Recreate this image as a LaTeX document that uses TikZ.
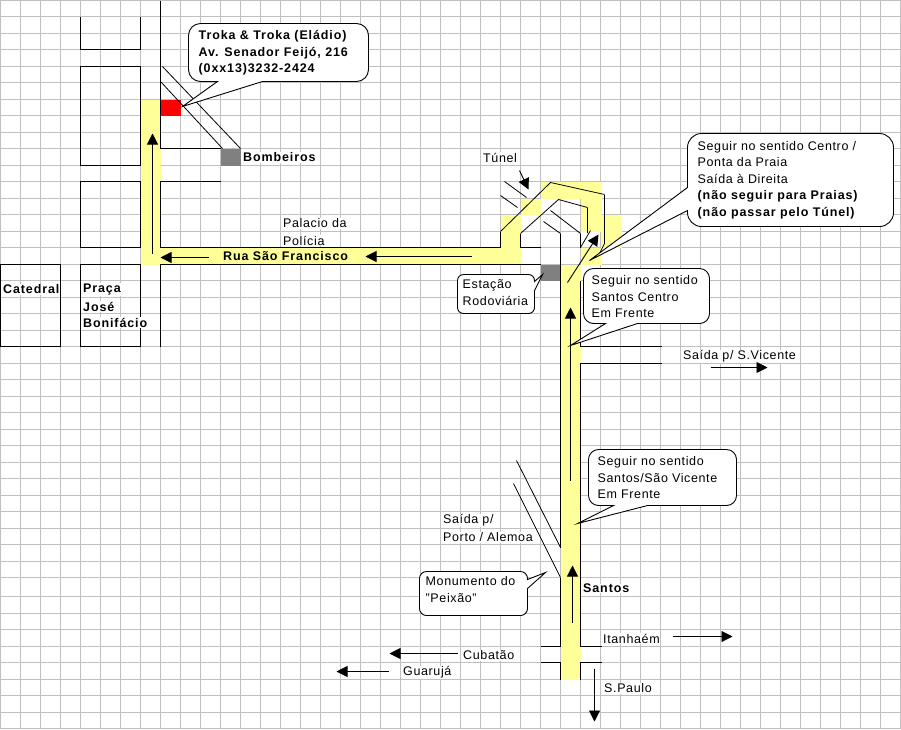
\documentclass[tikz,border=0pt]{standalone}
\usepackage{fontspec}
\setmainfont[LetterSpace=5,BoldFeatures={LetterSpace=7}]{Liberation Sans}
\usetikzlibrary{arrows.meta}
\definecolor{gridc}{HTML}{C0C0C0}
\definecolor{roadc}{HTML}{FFFF99}
\definecolor{boxgray}{HTML}{808080}
\tikzset{
  x=1pt,y=-1pt,
  gridline/.style={draw=gridc,line width=1pt},
  road/.style={draw=black,line width=1pt},
  thinl/.style={draw=black,line width=.8pt},
  cell/.style={fill=roadc},
  bubble/.style={draw=black,line width=.9pt,fill=white},
  arr/.style={draw=black,line width=.9pt,-{Triangle[length=11pt,width=11pt]}},
  lab/.style={anchor=west,inner sep=.5pt,xshift=-1pt,fill=white,font=\fontsize{12.5}{16.5}\selectfont,align=left},
  blab/.style={lab,font=\fontsize{12.5}{16.5}\bfseries\selectfont},
  bub/.style={anchor=north west,inner sep=0pt,xshift=-1pt,font=\fontsize{12.5}{16.5}\selectfont,align=left},
}
\begin{document}
\begin{tikzpicture}
\useasboundingbox (-0.5,-0.5) rectangle (900.5,728.5);
\fill[white] (-0.5,-0.5) rectangle (900.5,728.5);
% grid
\foreach \n in {0,...,45} \draw[gridline] ({20*\n},0) -- ({20*\n},728);
\foreach \n in {0,...,35} {\pgfmathsetmacro{\yy}{floor(16.5*\n)} \draw[gridline] (0,\yy) -- (900,\yy);}
\foreach \n in {36,...,44} {\pgfmathsetmacro{\yy}{596+floor(16.5*(\n-36)+0.5)} \draw[gridline] (0,\yy) -- (900,\yy);}
% yellow cells
\fill[cell] (140,99) rectangle (160,264);
\fill[cell] (140,247) rectangle (520,264);
\fill[cell] (500,214) rectangle (520,247);
\fill[cell] (520,198) rectangle (540,214);
\fill[cell] (540,181) rectangle (601,198);
\fill[cell] (580,198) rectangle (601,231);
\fill[cell] (600,214) rectangle (621,247);
\fill[cell] (580,247) rectangle (601,264);
\fill[cell] (560,264) rectangle (580,679);
% special cells
\fill[red] (160,99) rectangle (180,115);
\fill[boxgray] (220,148) rectangle (240,165);
\fill[boxgray] (540,264) rectangle (560,280);
% blocks
\draw[road] (80,16) -- (80,49) -- (140,49) -- (140,16);
\draw[road] (140,165) -- (80,165) -- (80,66) -- (140,66) -- (140,165);
\draw[road] (80,181) rectangle (140,247);
\draw[road] (80,264) rectangle (140,346);
\draw[road] (0,264) rectangle (60,346);
\draw[road] (160,0) -- (160,148) -- (220,148);
\draw[road] (220,181) -- (160,181) -- (160,247) -- (500,247) -- (500,231);
\draw[road] (160,346) -- (160,264) -- (540,264);
\draw[thinl] (162,66) -- (240,148);
\draw[thinl] (160.5,81.5) -- (222,148);
% tunnel area
\draw[thinl] (500,231) -- (550,182) -- (604,194);
\draw[road] (604,194) -- (604,243);
\draw[thinl] (604,243) -- (599,253);
\draw[road] (540,247) -- (520,247) -- (520,233);
\draw[thinl] (520,233) -- (558,199) -- (587,207);
\draw[road] (587,207) -- (587,232);
\draw[thinl] (504,181) -- (526,197);
\draw[thinl] (500,195) -- (517,207);
\draw[thinl] (550,210) -- (580,233);
\draw[thinl] (543,221) -- (560,233);
\draw[road] (580,233) -- (580,247);
\draw[thinl] (580,247) -- (590,230);
% main road
\draw[road] (560,233) -- (560,547);
\draw[road] (560,577) -- (560,646) -- (540,646);
\draw[road] (540,662) -- (560,662) -- (560,679);
\draw[road] (580,280) -- (580,346) -- (661,346);
\draw[road] (661,363) -- (580,363) -- (580,646) -- (601,646);
\draw[road] (601,662) -- (580,662) -- (580,679);
\draw[thinl] (516,460) -- (560,547);
\draw[thinl] (513,483) -- (560,577);
% callouts
\draw[bubble] (280,23) [rounded corners=12pt] -- (188,23) -- (188,81) [sharp corners] -- (217,81) -- (182,106) -- (262,81) [rounded corners=12pt] -- (368,81) -- (368,23) -- cycle;
\draw[bubble] (790,133) [rounded corners=14pt] -- (687,133) [sharp corners] -- (687,187) -- (589,260) -- (687,210) [rounded corners=14pt] -- (687,226) -- (893,226) -- (893,133) -- cycle;
\draw[bubble] (640,268) [rounded corners=10pt] -- (583,268) -- (583,323) [sharp corners] -- (605,323) -- (570,345) -- (637,323) [rounded corners=10pt] -- (709,323) -- (709,268) -- cycle;
\draw[bubble] (660,449) [rounded corners=10pt] -- (588,449) -- (588,505) [sharp corners] -- (613,505) -- (577,523) -- (647,505) [rounded corners=10pt] -- (736,505) -- (736,449) -- cycle;
\draw[bubble] (473,571) [rounded corners=7pt] -- (527,571) [sharp corners] -- (527,579) -- (545,572) -- (527,588) [rounded corners=7pt] -- (527,615) -- (419,615) -- (419,571) -- cycle;
\draw[bubble] (495,274) [rounded corners=6pt] -- (534,274) [sharp corners] -- (534,281) -- (542,274) -- (534,290) [rounded corners=6pt] -- (534,313) -- (457,313) -- (457,274) -- cycle;
% callout text
\node[bub,font=\fontsize{12.5}{16.5}\bfseries\selectfont] (troka) at (199,30) {Troka \& Troka (Eládio)\\Av. Senador Feijó, 216\\(0xx13)3232-2424};
\node[bub] (centro) at (698,140.5) {Seguir no sentido Centro /\\Ponta da Praia\\Saída à Direita\\{\bfseries (não seguir para Praias)}\\{\bfseries (não passar pelo Túnel)}};
\node[bub] (scentro) at (592,275) {Seguir no sentido\\Santos Centro\\Em Frente};
\node[bub] (vicente) at (598,456) {Seguir no sentido\\Santos/São Vicente\\Em Frente};
\node[bub] (peixao) at (426,576) {Monumento do\\"Peixão"};
\node[bub] (estacao) at (463,279) {Estação\\Rodoviária};
% labels
\node[blab] (bomb) at (243,157) {Bombeiros};
\node[lab] (palacio) at (283,223) {Palacio da};
\node[lab] (policia) at (283,240) {Polícia};
\node[blab,fill=roadc] (rua) at (223,256) {Rua São Francisco};
\node[blab] (cat) at (3,289) {Catedral};
\node[blab] (praca) at (83,289) {Praça};
\node[blab] (jose) at (83,306) {José};
\node[blab] (bonif) at (83,322) {Bonifácio};
\node[lab] (tunel) at (483,157) {Túnel};
\node[lab] (svic) at (683,356) {Saída p/ S.Vicente};
\node[lab] (saida) at (443,520) {Saída p/};
\node[lab] (porto) at (443,537) {Porto / Alemoa};
\node[blab] (santos) at (583,588) {Santos};
\node[lab] (itan) at (603,638) {Itanhaém};
\node[lab] (cub) at (463,655) {Cubatão};
\node[lab] (gua) at (403,672) {Guarujá};
\node[lab] (spaulo) at (604,688) {S.Paulo};
% arrows
\draw[arr] (152,253) -- (152,133);
\draw[arr] (208,257) -- (160,257);
\draw[arr] (471,256) -- (365,256);
\draw[arr] (519,170) -- (528,189);
\draw[arr] (567,282) -- (598,234);
\draw[arr] (570,480) -- (570,307);
\draw[arr] (572,622) -- (572,565);
\draw[arr] (710,367) -- (767,367);
\draw[arr] (672,636) -- (732,636);
\draw[arr] (457,653) -- (389,653);
\draw[arr] (388,671) -- (336,671);
\draw[arr] (594,668) -- (594,721);
\end{tikzpicture}
\end{document}
